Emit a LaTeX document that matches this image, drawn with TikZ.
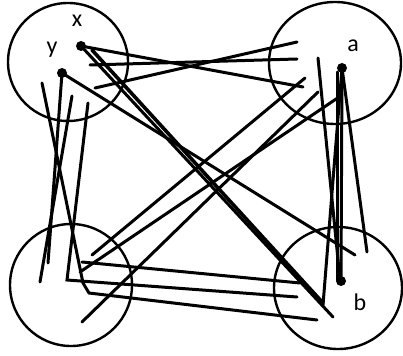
\documentclass[tikz,border=0pt]{standalone}
\usepackage{fontspec}
\setmainfont{Carlito}
\usetikzlibrary{positioning}
\definecolor{InkBlack}{HTML}{000000}
\tikzset{
  stroke/.style={InkBlack, line width=3pt, line cap=round},
  ring/.style={InkBlack, line width=2.4pt},
  dot/.style={circle, fill=InkBlack, inner sep=0pt, minimum size=10pt},
  lbl/.style={font=\fontsize{24pt}{24pt}\selectfont, text=InkBlack, inner sep=0pt}
}
\begin{document}
\begin{tikzpicture}[x=1pt,y=-1pt]
  \useasboundingbox (0,0) rectangle (403,355);
  % four rings
  \draw[ring] (68,62) ellipse[x radius=60pt, y radius=59pt];
  \draw[ring] (335,63) ellipse[x radius=66pt, y radius=61pt];
  \draw[ring] (71,285) ellipse[x radius=61pt, y radius=61pt];
  \draw[ring] (338,288) ellipse[x radius=64pt, y radius=61pt];
  % points and their letters
  \node[dot] (x) at (81,46) {};
  \node[dot] (y) at (62,73) {};
  \node[dot] (a) at (342,68) {};
  \node[dot] (b) at (341,281) {};
  \node[lbl] (xl) at (77,21) {x};
  \node[lbl] (yl) at (52,50) {y};
  \node[lbl] (al) at (353,46) {a};
  \node[lbl] (bl) at (360,302) {b};
  % top fan
  \draw[stroke] (x.center) -- (303,87);
  \draw[stroke] (90,65) -- (297,59);
  \draw[stroke] (95,88) -- (297,42);
  % down-right strokes
  \draw[stroke] (x.center) -- (333,317);
  \draw[stroke, line width=3.6pt] (92,50) -- (323,303);
  \draw[stroke] (y.center) -- (355,255);
  % up-right strokes
  \draw[stroke] (92,255) -- (305,78);
  \draw[stroke] (80,272) -- (342,95);
  \draw[stroke] (82,322) -- (318,92);
  % right column
  \draw[stroke] (318,58) -- (340,280);
  \draw[stroke] (a.center) -- (323,305);
  \draw[stroke] (337,72) -- (337,280);
  \draw[stroke] (a.center) -- (b.center);
  \draw[stroke] (a.center) -- (367,252);
  % left column
  \draw[stroke] (42,83) -- (83,283) -- (89,293) -- (317,320);
  \draw[stroke] (y.center) -- (48,263);
  \draw[stroke] (72,96) -- (40,282);
  \draw[stroke] (88,103) -- (67,280) -- (297,297);
  \draw[stroke] (82,262) -- (300,283);
\end{tikzpicture}
\end{document}
